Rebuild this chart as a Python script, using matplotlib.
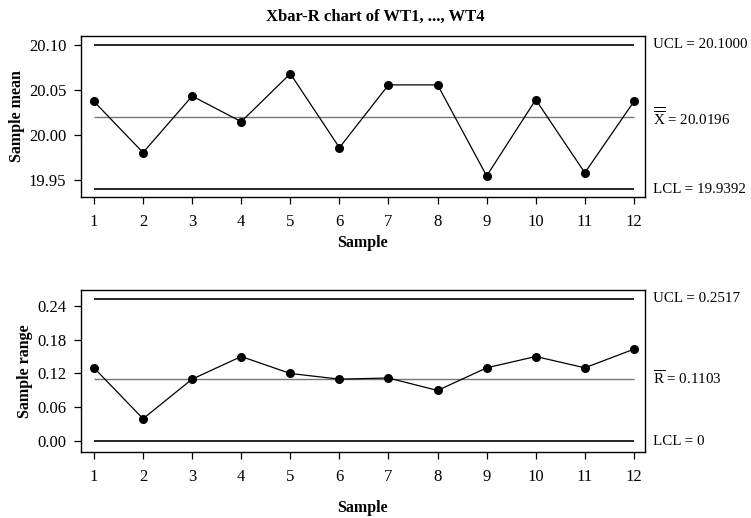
import matplotlib.pyplot as plt

plt.rcParams["font.family"] = ["Liberation Serif", "DejaVu Serif"]
plt.rcParams["mathtext.fontset"] = "custom"
plt.rcParams["mathtext.rm"] = "Liberation Serif"
plt.rcParams["mathtext.it"] = "Liberation Serif"

muestras = list(range(1, 13))
medias = [20.037, 19.980, 20.043, 20.0145, 20.068, 19.9855,
          20.0555, 20.0555, 19.954, 20.039, 19.9575, 20.037]
rangos = [0.13, 0.04, 0.11, 0.15, 0.12, 0.11, 0.112, 0.09, 0.13, 0.15, 0.13, 0.163]

xbar_ucl, xbar_cl, xbar_lcl = 20.1000, 20.0196, 19.9392
r_ucl, r_cl, r_lcl = 0.2517, 0.1103, 0.0

ticks_media = [19.95, 20.00, 20.05, 20.10]
ticks_rango = [0.00, 0.06, 0.12, 0.18, 0.24]


def panel(ax, y, ucl, cl, lcl, etiquetas, ylabel, yticks, ylim, xlabelpad):
    ax.hlines([ucl, lcl], 1, 12, color="black", lw=1.2)
    ax.hlines(cl, 1, 12, color="#777777", lw=1.0)
    ax.plot(muestras, y, color="black", lw=0.9, marker="o", ms=5.5)

    ax.set_xlim(0.735, 12.22)
    ax.set_ylim(*ylim)
    ax.set_xticks(muestras)
    ax.set_yticks(yticks)
    ax.set_yticklabels([f"{v:.2f}" for v in yticks])
    ax.tick_params(direction="out", length=5, width=0.9, labelsize=12, pad=7)
    ax.tick_params(axis="y", pad=5.5)
    for s in ax.spines.values():
        s.set_linewidth(1.0)

    ax.set_xlabel("Sample", fontsize=11.5, fontweight="bold", labelpad=xlabelpad)
    ax.set_ylabel(ylabel, fontsize=11.5, fontweight="bold", labelpad=3)

    for valor, texto in zip((ucl, cl, lcl), etiquetas):
        ax.annotate(texto, xy=(1, valor), xycoords=("axes fraction", "data"),
                    xytext=(5.8, 0), textcoords="offset points",
                    va="center", ha="left", fontsize=10.8)


fig = plt.figure(figsize=(7.51, 5.18), dpi=100)
ax1 = fig.add_axes([0.1078, 0.6197, 0.7507, 0.3108])
ax2 = fig.add_axes([0.1078, 0.1274, 0.7507, 0.3128])

panel(ax1, medias, xbar_ucl, xbar_cl, xbar_lcl,
      ["UCL = 20.1000", r"$\overline{\overline{\mathrm{X}}}$ = 20.0196", "LCL = 19.9392"],
      "Sample mean", ticks_media, (19.9305, 20.110), 3.5)
panel(ax2, rangos, r_ucl, r_cl, r_lcl,
      ["UCL = 0.2517", r"$\overline{\mathrm{R}}$ = 0.1103", "LCL = 0"],
      "Sample range", ticks_rango, (-0.0188, 0.2676), 11)

fig.suptitle("Xbar-R chart of WT1, ..., WT4", y=0.983, fontsize=12, fontweight="bold")

fig.savefig("out.png", dpi=100)
